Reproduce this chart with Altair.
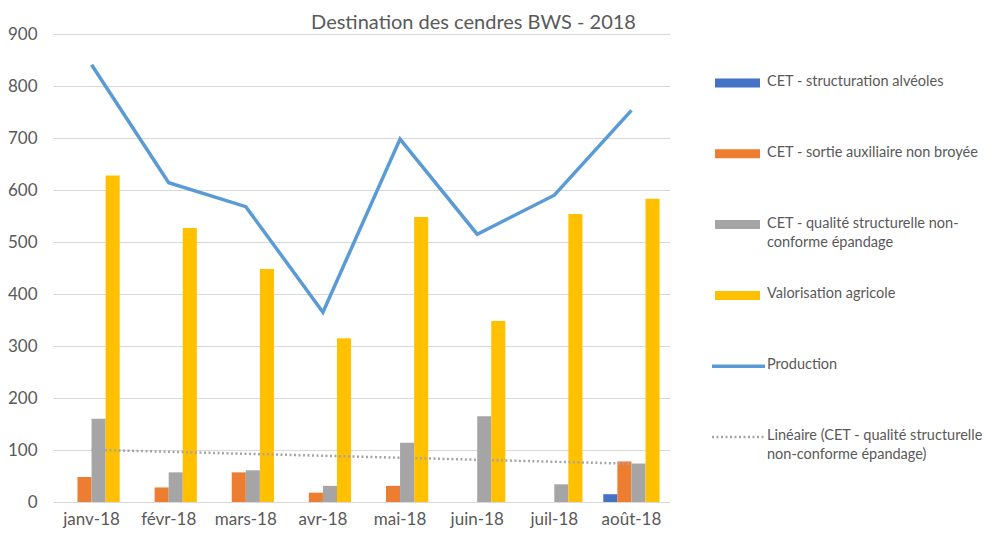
import altair as alt
import pandas as pd

# ---- data ----
months = ["janv-18", "févr-18", "mars-18", "avr-18", "mai-18", "juin-18", "juil-18", "août-18"]
structuration = [0, 0, 0, 0, 0, 0, 0, 15]
sortie = [48, 28, 57, 18, 31, 0, 0, 78]
qualite = [160, 57, 61, 31, 114, 165, 34, 74]
valorisation = [628, 527, 448, 315, 548, 348, 554, 583]
production = [841, 614, 568, 365, 698, 515, 590, 753]

bar_series = [
    "CET - structuration alvéoles",
    "CET - sortie auxiliaire non broyée",
    "CET - qualité structurelle non-conforme épandage",
    "Valorisation agricole",
]
line_series = "Production"
trend_series = "Linéaire (CET - qualité structurelle non-conforme épandage)"
all_series = bar_series + [line_series, trend_series]
legend_labels = [
    "CET - structuration alvéoles",
    "CET - sortie auxiliaire non broyée",
    "CET - qualité structurelle non-\nconforme épandage",
    "Valorisation agricole",
    "Production",
    "Linéaire (CET - qualité structurelle\nnon-conforme épandage)",
]
legend_kind = ["bar", "bar", "bar", "bar", "line", "trend"]
colors = ["#4472C4", "#ED7D31", "#A5A5A5", "#FFC000", "#5B9BD5", "#A5A5A5"]
y_ticks = [0, 100, 200, 300, 400, 500, 600, 700, 800, 900]
title_text = "Destination des cendres BWS - 2018"

FONT = "Lato, Roboto, sans-serif"
TXT = "#595959"

# ---- tables ----
bar_values = [structuration, sortie, qualite, valorisation]
bars_df = pd.DataFrame(
    [{"month": m, "series": s, "value": v[i]}
     for s, v in zip(bar_series, bar_values) for i, m in enumerate(months)]
)
prod_df = pd.DataFrame({"month": months, "value": production})
trend_df = pd.DataFrame({"idx": list(range(len(months))), "value": qualite})
legend_df = pd.DataFrame({"series": all_series, "label": legend_labels, "kind": legend_kind})

x_scale = alt.Scale(domain=months, paddingInner=0.27, paddingOuter=0.135)
y_scale = alt.Scale(domain=[0, 900], nice=False)
color_scale = alt.Scale(domain=all_series, range=colors)
legend_y = alt.Y("series:N", sort=all_series, axis=None,
                 scale=alt.Scale(type="point", domain=all_series, range=[49, 403], padding=0))

x_enc = alt.X("month:N", sort=months, scale=x_scale, title=None,
              axis=alt.Axis(labelAngle=0, ticks=False, domain=False, labelPadding=9,
                            labelFontSize=17, labelColor=TXT, labelFont=FONT))
y_enc = alt.Y("value:Q", scale=y_scale, title=None,
              axis=alt.Axis(values=y_ticks, ticks=False, domain=False, labelPadding=16,
                            labelFontSize=17, labelColor=TXT, labelFont=FONT,
                            gridColor="#D9D9D9", gridWidth=1))
y_plain = alt.Y("value:Q", scale=y_scale, axis=None)

bars = alt.Chart(bars_df).mark_bar().encode(
    x=x_enc,
    xOffset=alt.XOffset("series:N", sort=bar_series,
                        scale=alt.Scale(domain=bar_series, paddingInner=0, paddingOuter=0)),
    y=y_enc,
    color=alt.Color("series:N", scale=color_scale, legend=None),
)

month_expr = "[" + ",".join(f"'{m}'" for m in months) + "][round(datum.idx)]"
trend = (
    alt.Chart(trend_df)
    .transform_regression("idx", "value", method="linear")
    .transform_calculate(month=month_expr)
    .mark_line(color="#A5A5A5", strokeWidth=2.5, strokeDash=[2, 2.5])
    .encode(x=alt.X("month:N", sort=months), y=y_plain)
)

prod = alt.Chart(prod_df).mark_line(color="#5B9BD5", strokeWidth=3.5).encode(
    x=alt.X("month:N", sort=months), y=y_plain
)

# ---- legend (right side) ----
leg = alt.Chart(legend_df)
sw_bars = leg.transform_filter("datum.kind == 'bar'").mark_rule(strokeWidth=9).encode(
    x=alt.value(662), x2=alt.value(707), y=legend_y,
    color=alt.Color("series:N", scale=color_scale, legend=None),
)
sw_line = leg.transform_filter("datum.kind == 'line'").mark_rule(strokeWidth=3.5).encode(
    x=alt.value(659), x2=alt.value(712), y=legend_y,
    color=alt.Color("series:N", scale=color_scale, legend=None),
)
sw_trend = leg.transform_filter("datum.kind == 'trend'").mark_rule(
    strokeWidth=2.5, strokeDash=[2, 2.5]
).encode(
    x=alt.value(659), x2=alt.value(712), y=legend_y,
    color=alt.Color("series:N", scale=color_scale, legend=None),
)
leg_text = leg.mark_text(
    align="left", baseline="top", dy=-8, lineBreak="\n", lineHeight=19,
    font=FONT, fontSize=14.5, color=TXT,
).encode(x=alt.value(714), y=legend_y, text="label:N")

chart = (
    alt.layer(bars, trend, prod, sw_bars, sw_line, sw_trend, leg_text)
    .resolve_scale(y="independent")
    .properties(
        width=617,
        height=468,
        padding={"left": 45, "top": 26, "right": 329, "bottom": 28},
        autosize=alt.AutoSizeParams(type="none"),
        title=alt.TitleParams(title_text, anchor="middle", dx=112, dy=8, offset=0,
                              fontSize=20, fontWeight="normal", color=TXT, font=FONT),
    )
    .configure_view(stroke=None)
)

chart.save("out.html", embed_options={"renderer": "svg", "actions": False})
